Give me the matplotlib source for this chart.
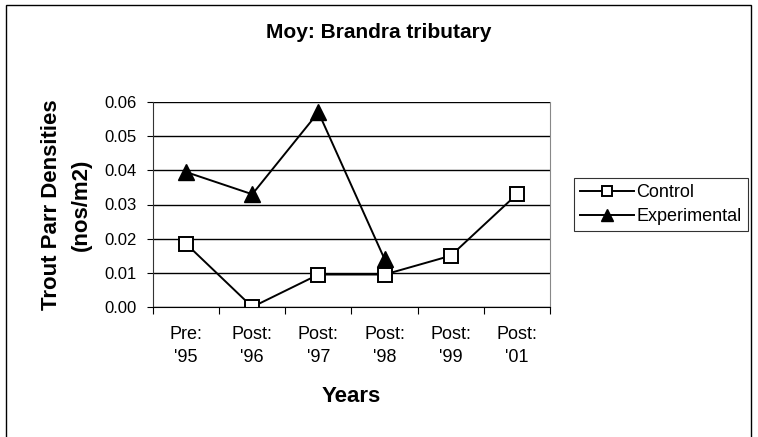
import numpy as np
import matplotlib.pyplot as plt
from matplotlib.patches import Rectangle

plt.rcParams['font.family'] = ['Liberation Sans', 'DejaVu Sans']

years = ["Pre:\n'95", "Post:\n'96", "Post:\n'97", "Post:\n'98", "Post:\n'99", "Post:\n'01"]
control = [0.0185, 0.0, 0.0095, 0.0095, 0.015, 0.033]
experimental = [0.0395, 0.033, 0.057, 0.014]

fig = plt.figure(figsize=(7.58, 4.37), dpi=100)
ax = fig.add_axes([153 / 758, 1 - 307 / 437, 397 / 758, 205 / 437])

x = np.arange(len(years))
ax.plot(x, control, color='black', lw=1.4, marker='s', ms=10,
        mfc='white', mec='black', mew=1.4, label='Control')
ax.plot(x[:len(experimental)], experimental, color='black', lw=1.4, marker='^',
        ms=11, mfc='black', mec='black', label='Experimental')

ax.set_xlim(-0.5, len(years) - 0.5)
ax.set_ylim(0, 0.06)
yt = np.arange(0, 0.061, 0.01)
ax.set_yticks(yt)
ax.set_yticklabels(['%.2f' % v for v in yt], fontsize=12)
ax.yaxis.grid(True, color='black', lw=1)
ax.set_axisbelow(True)

ax.set_xticks(np.arange(-0.5, len(years), 1))
ax.set_xticklabels([])
ax.set_xticks(x, minor=True)
ax.set_xticklabels(years, minor=True, fontsize=13, linespacing=1.45)
ax.tick_params(axis='x', which='minor', length=0, pad=14)
ax.tick_params(axis='x', which='major', length=5, direction='out', color='black')
ax.tick_params(axis='y', length=4, direction='out', pad=8)

ax.spines['top'].set_visible(False)
ax.spines['right'].set_color('#888888')
ax.spines['left'].set_color('#333333')

ax.set_xlabel('Years', fontsize=16, fontweight='bold', labelpad=14)
ax.set_ylabel('Trout Parr Densities\n(nos/m2)', fontsize=16, fontweight='bold',
              labelpad=9, linespacing=1.5)
fig.text(0.5, 1 - 33 / 437, 'Moy: Brandra tributary', fontsize=15, fontweight='bold',
         ha='center', va='center')

leg = ax.legend(loc='center left', bbox_to_anchor=(1.06, 0.5), frameon=True,
                fancybox=False, edgecolor='black', fontsize=13, handlelength=3.0,
                handletextpad=0.1, borderpad=0.35, labelspacing=0.4, borderaxespad=0,
                markerscale=0.75)
leg.get_frame().set_linewidth(0.8)

fig.patches.append(Rectangle((6 / 758, -0.05), 745 / 758, 1 - 5 / 437 + 0.05,
                             transform=fig.transFigure, fill=False,
                             edgecolor='black', lw=1))

fig.savefig('out.png', dpi=100)
